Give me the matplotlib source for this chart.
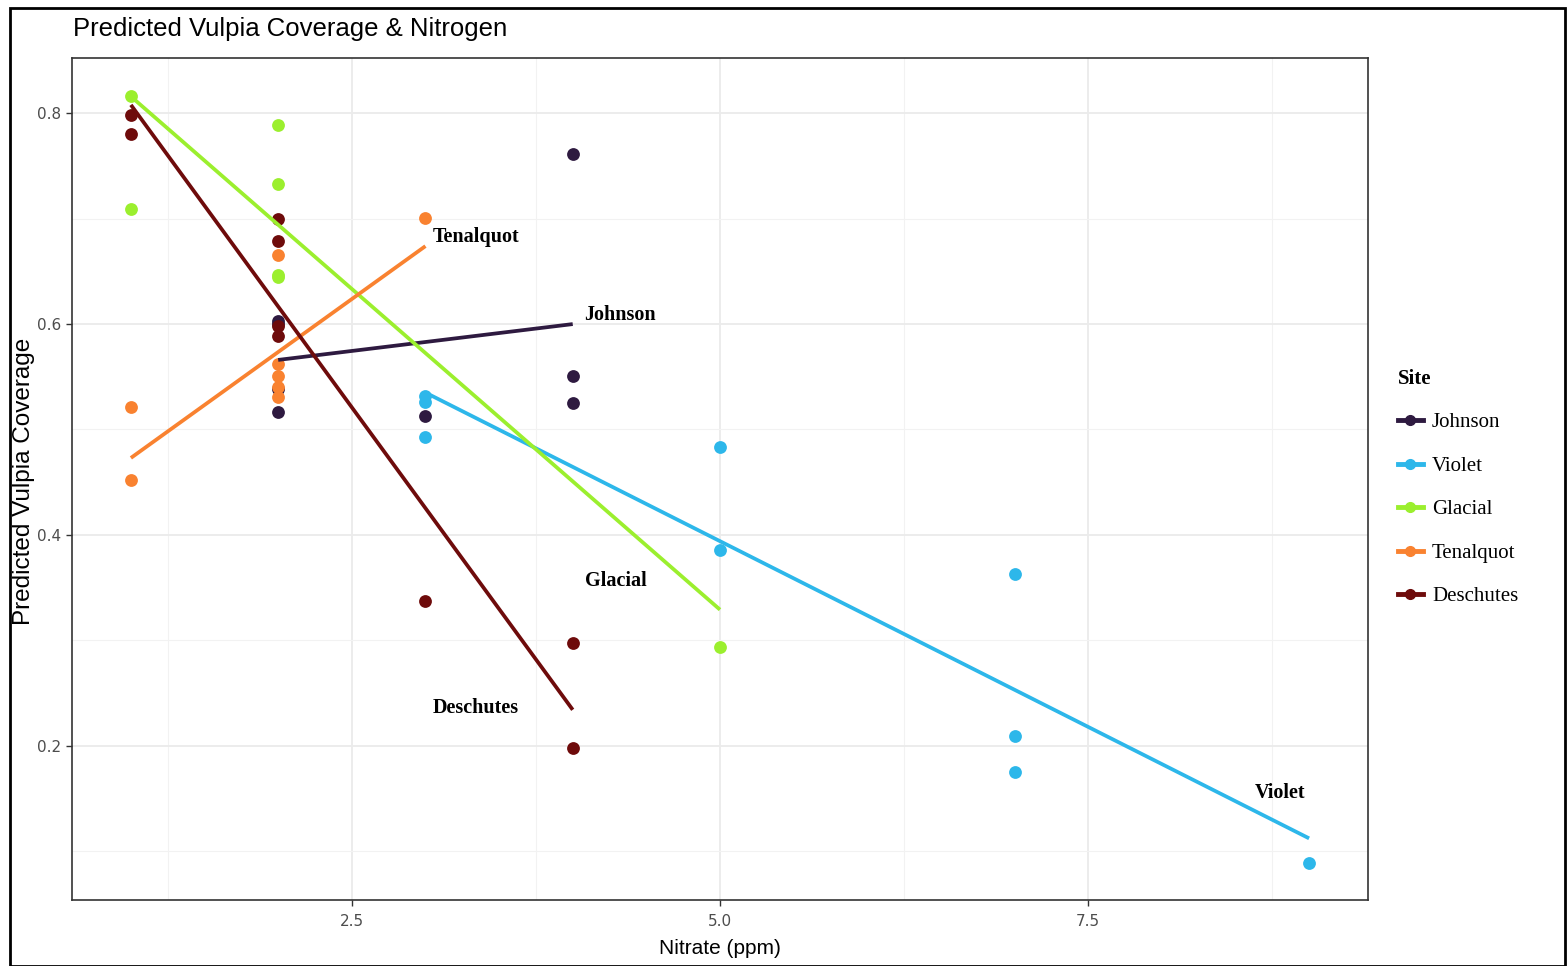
import matplotlib
matplotlib.use("Agg")
import matplotlib.pyplot as plt
from matplotlib.lines import Line2D
from matplotlib.patches import Rectangle
import numpy as np

sites = ["Johnson", "Violet", "Glacial", "Tenalquot", "Deschutes"]
colors = {"Johnson": "#2E1A40", "Violet": "#2DB7EA", "Glacial": "#9BEF2E",
          "Tenalquot": "#F98230", "Deschutes": "#6E0B0B"}

johnson_x = [2, 2, 2, 2, 3, 4, 4, 4]
johnson_y = [0.603, 0.600, 0.538, 0.517, 0.513, 0.761, 0.551, 0.525]
violet_x = [3, 3, 3, 5, 5, 7, 7, 7, 9]
violet_y = [0.532, 0.526, 0.493, 0.483, 0.386, 0.363, 0.209, 0.175, 0.089]
glacial_x = [1, 1, 2, 2, 2, 2, 5]
glacial_y = [0.816, 0.709, 0.789, 0.733, 0.647, 0.645, 0.294]
tenalquot_x = [1, 1, 2, 2, 2, 2, 2, 3]
tenalquot_y = [0.521, 0.452, 0.666, 0.562, 0.551, 0.540, 0.531, 0.701]
deschutes_x = [1, 1, 2, 2, 2, 2, 3, 4, 4]
deschutes_y = [0.798, 0.780, 0.700, 0.679, 0.598, 0.589, 0.337, 0.297, 0.198]

# fitted line endpoints (x range, predicted y)
johnson_fit = ([2, 4], [0.566, 0.600])
violet_fit = ([3, 9], [0.535, 0.112])
glacial_fit = ([1, 5], [0.816, 0.329])
tenalquot_fit = ([1, 3], [0.473, 0.674])
deschutes_fit = ([1, 4], [0.808, 0.234])

label_pos = {"Tenalquot": (3.05, 0.683), "Johnson": (4.08, 0.609),
             "Glacial": (4.08, 0.356), "Deschutes": (3.05, 0.236),
             "Violet": (8.63, 0.155)}

data = {
    "Johnson": (johnson_x, johnson_y, johnson_fit),
    "Violet": (violet_x, violet_y, violet_fit),
    "Glacial": (glacial_x, glacial_y, glacial_fit),
    "Tenalquot": (tenalquot_x, tenalquot_y, tenalquot_fit),
    "Deschutes": (deschutes_x, deschutes_y, deschutes_fit),
}

fig = plt.figure(figsize=(15.68, 9.66), dpi=100)
ax = fig.add_axes([72/1568, 1-900/966, (1368-72)/1568, (900-58)/966])

for s in sites:
    x, y, fit = data[s]
    ax.scatter(x, y, s=85, color=colors[s], zorder=3, linewidths=0)
for s in sites:
    x, y, fit = data[s]
    ax.plot(fit[0], fit[1], color=colors[s], lw=2.7, zorder=4, solid_capstyle="butt")

for s, (lx, ly) in label_pos.items():
    ax.text(lx, ly, s, family="Liberation Serif", fontweight="bold", fontsize=14.5,
            ha="left", va="center", color="black", zorder=5)

ax.set_xlim(0.6, 9.4)
ax.set_ylim(0.0535, 0.8525)
ax.set_xticks([2.5, 5.0, 7.5])
ax.set_xticklabels(["2.5", "5.0", "7.5"])
ax.set_yticks([0.2, 0.4, 0.6, 0.8])
ax.set_yticklabels(["0.2", "0.4", "0.6", "0.8"])
ax.set_xticks([1.25, 3.75, 6.25, 8.75], minor=True)
ax.set_yticks([0.1, 0.3, 0.5, 0.7], minor=True)
ax.grid(True, which="major", color="#EBEBEB", lw=1.3, zorder=0)
ax.grid(True, which="minor", color="#F2F2F2", lw=0.8, zorder=0)
ax.set_axisbelow(True)
ax.tick_params(which="major", length=4, color="#333333", labelsize=11,
               labelcolor="#4D4D4D", width=1)
ax.tick_params(axis="x", which="major", pad=6)
ax.tick_params(which="minor", length=0)
for sp in ax.spines.values():
    sp.set_color("#333333")
    sp.set_linewidth(1.2)

ax.set_xlabel("Nitrate (ppm)", fontsize=15, family="Liberation Sans")
ax.xaxis.set_label_coords((720-72)/(1368-72), -(948-900)/(900-58))
ax.set_ylabel("Predicted Vulpia Coverage", fontsize=17.5, family="Liberation Sans")
ax.yaxis.set_label_coords(-(72-24)/(1368-72), (900-481)/(900-58))
ax.yaxis.label.set_va("center")
ax.xaxis.label.set_va("center")

fig.text(73/1568, 1-29/966, "Predicted Vulpia Coverage & Nitrogen",
         family="Liberation Sans", fontsize=18.5,
         ha="left", va="center")

handles = [Line2D([0], [0], color=colors[s], lw=3.5, marker="o", markersize=7)
           for s in sites]
leg = ax.legend(handles, sites, title="Site", loc="upper left",
                bbox_to_anchor=(1379/1568, 1-350/966), bbox_transform=fig.transFigure,
                frameon=False, prop={"family": "Liberation Serif", "size": 15},
                title_fontproperties={"family": "Liberation Serif", "weight": "bold", "size": 15},
                handlelength=1.2, labelspacing=1.15, handletextpad=0.45,
                alignment="left")

fig.patches.append(Rectangle((10/1568, 0), (1565-10)/1568, 1-8/966,
                             transform=fig.transFigure, fill=False,
                             edgecolor="black", lw=2))

fig.savefig("out.png", dpi=100)
